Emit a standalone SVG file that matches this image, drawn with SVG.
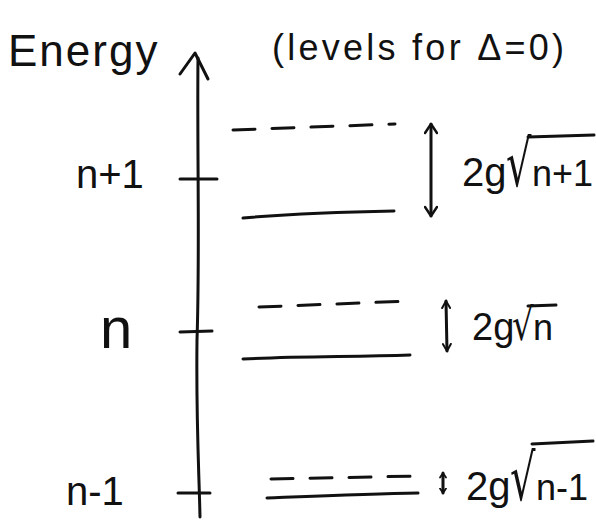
<svg xmlns="http://www.w3.org/2000/svg" width="596" height="530" viewBox="0 0 596 530">
<style>
.s{stroke:#111;stroke-width:3;fill:none;stroke-linecap:round;stroke-linejoin:round}
.d{stroke:#111;stroke-width:3;fill:none;stroke-linecap:round;stroke-dasharray:22 17}
.t{font-family:"Liberation Sans","DejaVu Sans",sans-serif;fill:#111}
.r{font-family:"DejaVu Sans",sans-serif;fill:#111}
</style>
<defs>
<marker id="ah" viewBox="0 0 12 14" refX="11" refY="7" markerWidth="12" markerHeight="14" markerUnits="userSpaceOnUse" orient="auto-start-reverse">
<path d="M2,1 L11,7 L2,13" fill="none" stroke="#111" stroke-width="2.5" stroke-linecap="round" stroke-linejoin="round"/>
</marker>
<marker id="ahs" viewBox="0 0 9 10" refX="8" refY="5" markerWidth="9" markerHeight="10" markerUnits="userSpaceOnUse" orient="auto-start-reverse">
<path d="M1,1 L8,5 L1,9" fill="none" stroke="#111" stroke-width="2" stroke-linecap="round" stroke-linejoin="round"/>
</marker>
<marker id="aht" viewBox="0 0 6 8" refX="5.5" refY="4" markerWidth="6" markerHeight="8" markerUnits="userSpaceOnUse" orient="auto-start-reverse">
<path d="M1,1 L5.5,4 L1,7" fill="none" stroke="#111" stroke-width="1.8" stroke-linecap="round" stroke-linejoin="round"/>
</marker>
</defs>
<rect width="596" height="530" fill="#fff"/>
<g id="title">
<text class="t" x="8" y="66" font-size="44" letter-spacing="2">Energy</text>
<text class="t" x="272" y="60" font-size="36" textLength="292" lengthAdjust="spacing">(levels for Δ=0)</text>
</g>
<g id="axis">
<path class="s" d="M198,58 C197,150 200,250 197,340 C196,420 199,470 200,517"/>
<path class="s" d="M180,74 L195,53 L208,79"/>
<line class="s" x1="180" y1="179" x2="217" y2="179"/>
<line class="s" x1="180" y1="332" x2="212" y2="331"/>
<line class="s" x1="178" y1="493" x2="210" y2="493"/>
</g>
<g id="level-n1">
<text class="t" x="76" y="188" font-size="40">n+1</text>
<path class="d" d="M233,130 L395,124"/>
<path class="s" d="M243,218 C290,214 340,212 394,211"/>
<line class="s" x1="431" y1="124" x2="431" y2="216" marker-start="url(#ah)" marker-end="url(#ah)"/>
<text class="t" x="462" y="186" font-size="40">2g</text>
<text class="r" transform="translate(506,186) scale(1,1.6)" font-size="40">√</text>
<text class="t" x="532" y="186" font-size="36">n+1</text>
<line class="s" x1="528" y1="137" x2="594" y2="135"/>
</g>
<g id="level-n">
<text class="t" x="100" y="348" font-size="58">n</text>
<path class="d" d="M259,307 L410,301" stroke-dasharray="20 18"/>
<path class="s" d="M243,359 C300,356 350,357 410,355"/>
<line class="s" x1="446" y1="301" x2="447" y2="351" marker-start="url(#ahs)" marker-end="url(#ahs)"/>
<text class="t" x="472" y="340" font-size="38">2g</text>
<text class="r" transform="translate(512,340) scale(1,1.3)" font-size="34">√</text>
<text class="t" x="533" y="340" font-size="36">n</text>
<line class="s" x1="528" y1="306" x2="556" y2="305"/>
</g>
<g id="level-nm1">
<text class="t" x="66" y="505" font-size="40">n-1</text>
<path class="d" d="M271,479 L418,476" stroke-dasharray="20 16"/>
<path class="s" d="M267,498 C320,496 370,494 418,493"/>
<line class="s" x1="443" y1="473" x2="443" y2="493" stroke-width="2.2" marker-start="url(#aht)" marker-end="url(#aht)"/>
<text class="t" x="466" y="500" font-size="40">2g</text>
<text class="r" transform="translate(510,500) scale(1,1.6)" font-size="40">√</text>
<text class="t" x="536" y="500" font-size="36">n-1</text>
<line class="s" x1="532" y1="444" x2="593" y2="441"/>
</g>
</svg>
